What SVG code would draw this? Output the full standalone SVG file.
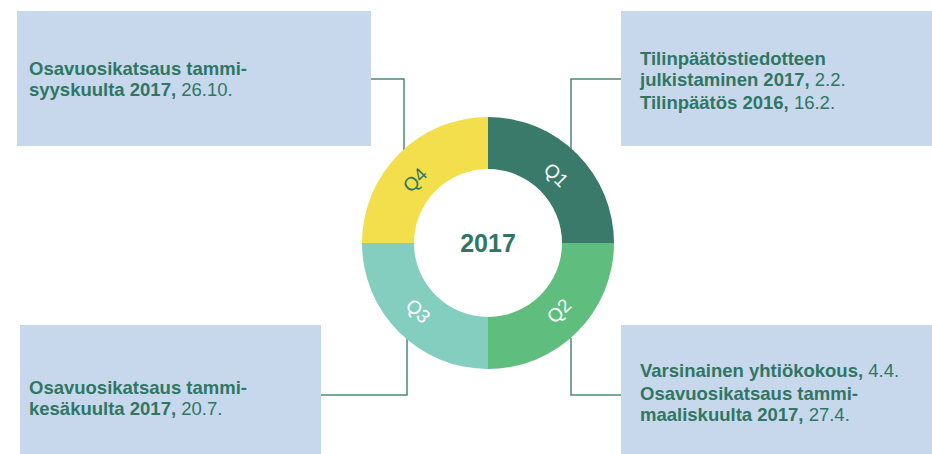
<svg xmlns="http://www.w3.org/2000/svg" width="932" height="454" viewBox="0 0 932 454">
<style>
.box{fill:#c8d8ec}
.t{font-family:"Liberation Sans",Arial,sans-serif;font-size:18.5px;fill:#2f7663}
.b{font-weight:700}
.n{font-weight:400}
.conn{fill:none;stroke:#4a8a78;stroke-width:1.5}
.q{font-family:"Liberation Sans",Arial,sans-serif;font-size:19px;text-anchor:middle;dominant-baseline:central}
</style>
<rect width="932" height="454" fill="#ffffff"/>
<g id="connectors">
<path class="conn" d="M371,79 H404 V152"/>
<path class="conn" d="M621,79 H571 V152"/>
<path class="conn" d="M321,395 H407 V338"/>
<path class="conn" d="M621,395 H571 V338"/>
</g>
<g id="node-q4-box">
<rect class="box" x="17" y="11" width="354" height="135"/>
<text class="t" x="29" y="75"><tspan class="b">Osavuosikatsaus tammi-</tspan></text>
<text class="t" x="29" y="96"><tspan class="b">syyskuulta 2017,</tspan><tspan class="n"> 26.10.</tspan></text>
</g>
<g id="node-q1-box">
<rect class="box" x="621" y="11" width="311" height="135"/>
<text class="t" x="640" y="65"><tspan class="b">Tilinpäätöstiedotteen</tspan></text>
<text class="t" x="640" y="86"><tspan class="b">julkistaminen 2017,</tspan><tspan class="n"> 2.2.</tspan></text>
<text class="t" x="640" y="109"><tspan class="b">Tilinpäätös 2016,</tspan><tspan class="n"> 16.2.</tspan></text>
</g>
<g id="node-q3-box">
<rect class="box" x="20" y="325" width="301" height="129"/>
<text class="t" x="29" y="394"><tspan class="b">Osavuosikatsaus tammi-</tspan></text>
<text class="t" x="29" y="415"><tspan class="b">kesäkuulta 2017,</tspan><tspan class="n"> 20.7.</tspan></text>
</g>
<g id="node-q2-box">
<rect class="box" x="621" y="325" width="311" height="129"/>
<text class="t" x="640" y="377"><tspan class="b">Varsinainen yhtiökokous,</tspan><tspan class="n"> 4.4.</tspan></text>
<text class="t" x="640" y="400"><tspan class="b">Osavuosikatsaus tammi-</tspan></text>
<text class="t" x="640" y="421"><tspan class="b">maaliskuulta 2017,</tspan><tspan class="n"> 27.4.</tspan></text>
</g>
<g id="node-donut">
<path id="q1" d="M488,117 A126,126 0 0 1 614,243 L562,243 A74,74 0 0 0 488,169 Z" fill="#397a6a"/>
<path id="q2" d="M614,243 A126,126 0 0 1 488,369 L488,317 A74,74 0 0 0 562,243 Z" fill="#5fbe7e"/>
<path id="q3" d="M488,369 A126,126 0 0 1 362,243 L414,243 A74,74 0 0 0 488,317 Z" fill="#84cebf"/>
<path id="q4" d="M362,243 A126,126 0 0 1 488,117 L488,169 A74,74 0 0 0 414,243 Z" fill="#f2df4b"/>
<text class="q" fill="#ffffff" transform="translate(556,175) rotate(45)">Q1</text>
<text class="q" fill="#ffffff" transform="translate(559,311) rotate(-45)">Q2</text>
<text class="q" fill="#ffffff" transform="translate(418,311) rotate(45)">Q3</text>
<text class="q" fill="#2f7663" transform="translate(415,180) rotate(-45)">Q4</text>
<text x="488" y="252" text-anchor="middle" font-family="'Liberation Sans',Arial,sans-serif" font-size="25" font-weight="700" fill="#2f7663">2017</text>
</g>
</svg>
